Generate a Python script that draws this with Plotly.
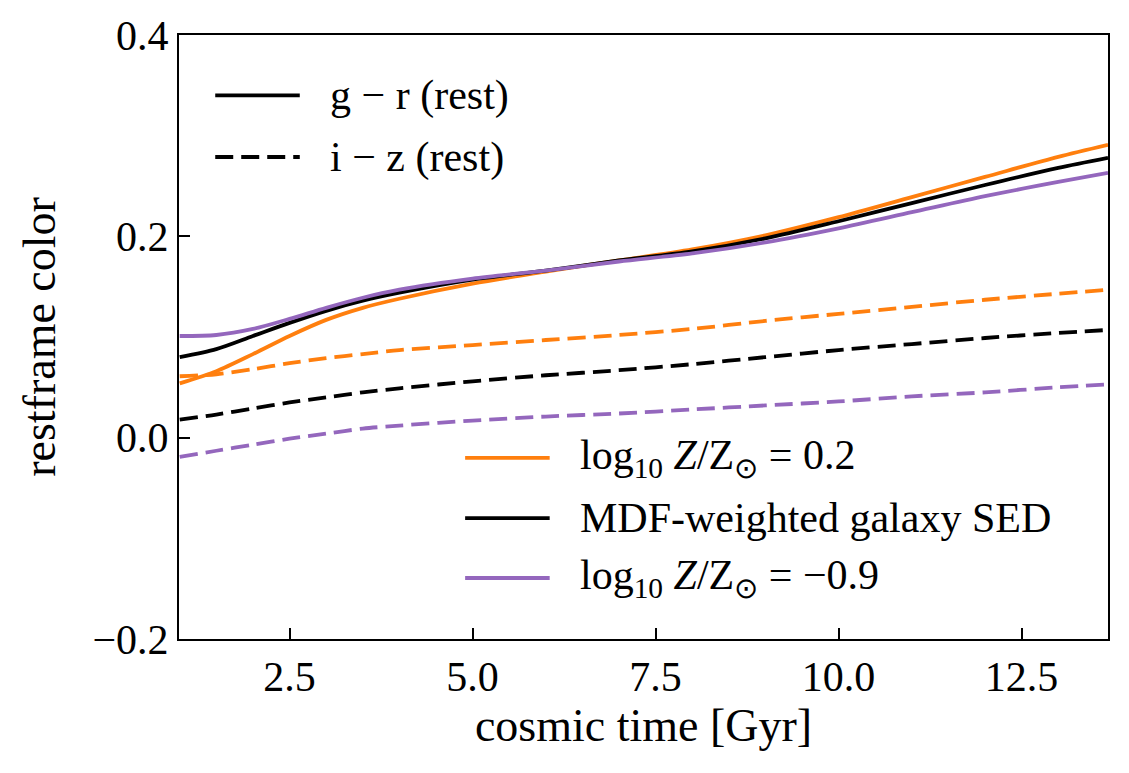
import plotly.graph_objects as go

# cosmic time grid [Gyr]
t_gyr = [1.0, 1.5, 2.0, 2.5, 3.0, 3.5, 4.0, 5.0, 6.0, 7.0, 8.0, 9.0, 10.0, 11.0, 12.0, 13.0, 13.68]

# g - r (rest)
gr_high = [0.054, 0.066, 0.083, 0.101, 0.117, 0.129, 0.138, 0.153, 0.165, 0.176, 0.187, 0.201, 0.219, 0.239, 0.259, 0.279, 0.291]
gr_mdf = [0.080, 0.088, 0.101, 0.114, 0.126, 0.136, 0.144, 0.157, 0.166, 0.176, 0.185, 0.198, 0.215, 0.233, 0.251, 0.268, 0.278]
gr_low = [0.101, 0.102, 0.108, 0.118, 0.129, 0.139, 0.147, 0.158, 0.166, 0.175, 0.183, 0.194, 0.208, 0.224, 0.240, 0.254, 0.263]

# i - z (rest)
iz_high = [0.061, 0.063, 0.068, 0.074, 0.079, 0.083, 0.087, 0.092, 0.097, 0.102, 0.108, 0.116, 0.123, 0.130, 0.137, 0.143, 0.147]
iz_mdf = [0.018, 0.023, 0.029, 0.035, 0.040, 0.045, 0.049, 0.056, 0.062, 0.067, 0.073, 0.080, 0.087, 0.093, 0.099, 0.104, 0.107]
iz_low = [-0.019, -0.013, -0.007, -0.001, 0.004, 0.009, 0.012, 0.017, 0.021, 0.024, 0.028, 0.032, 0.036, 0.041, 0.045, 0.050, 0.053]

labels_style = ['g − r (rest)', 'i − z (rest)']
labels_model = ['log<sub>10</sub> <i>Z</i>/Z<sub>⊙</sub> = 0.2',
                'MDF-weighted galaxy SED',
                'log<sub>10</sub> <i>Z</i>/Z<sub>⊙</sub> = −0.9']

c_high = '#ff7f0e'
c_mdf = 'black'
c_low = '#9467bd'
lw = 3.8
dash = '18px,8px'
font = 'Liberation Serif'
spl = dict(shape='spline', smoothing=0.8)

fig = go.Figure()

for y, c in [(gr_high, c_high), (gr_mdf, c_mdf), (gr_low, c_low)]:
    fig.add_trace(go.Scatter(x=t_gyr, y=y, mode='lines', showlegend=False,
                             line=dict(color=c, width=lw, **spl)))
for y, c in [(iz_high, c_high), (iz_mdf, c_mdf), (iz_low, c_low)]:
    fig.add_trace(go.Scatter(x=t_gyr, y=y, mode='lines', showlegend=False,
                             line=dict(color=c, width=lw, dash=dash, **spl)))

# hand-made legends (matplotlib style: long handles, no frame)
shapes = []
annots = []


def key(x0, x1, xt, y, color, text, d='solid'):
    shapes.append(dict(type='line', xref='paper', yref='paper', x0=x0, x1=x1, y0=y, y1=y,
                       line=dict(color=color, width=lw, dash=d)))
    annots.append(dict(xref='paper', yref='paper', x=xt, y=y, text=text, showarrow=False,
                       xanchor='left', yanchor='middle', font=dict(size=42)))


key(0.039, 0.130, 0.160, 0.900, 'black', labels_style[0])
key(0.039, 0.130, 0.160, 0.798, 'black', labels_style[1], dash)
key(0.308, 0.399, 0.429, 0.300, c_high, labels_model[0])
key(0.308, 0.399, 0.429, 0.200, c_mdf, labels_model[1])
key(0.308, 0.399, 0.429, 0.101, c_low, labels_model[2])

axis_style = dict(showline=True, linecolor='black', linewidth=2, mirror=True,
                  ticks='inside', ticklen=11, tickwidth=2, tickcolor='black',
                  showgrid=False, zeroline=False, tickfont=dict(size=42), automargin=False)

fig.update_layout(
    width=1129, height=773,
    margin=dict(l=171, r=29, t=27, b=142),
    plot_bgcolor='white', paper_bgcolor='white',
    font=dict(family=font, size=42, color='black'),
    showlegend=False,
    shapes=shapes, annotations=annots,
    xaxis=dict(range=[0.99, 13.68], tickvals=[2.5, 5.0, 7.5, 10.0, 12.5], tickformat='.1f',
               title=dict(text='cosmic time [Gyr]', font=dict(size=46), standoff=8), **axis_style),
    yaxis=dict(range=[-0.2, 0.4], tickvals=[-0.2, 0.0, 0.2, 0.4], tickformat='.1f',
               title=dict(text='restframe color', font=dict(size=46), standoff=22), **axis_style),
)

fig.write_html('out.html')
